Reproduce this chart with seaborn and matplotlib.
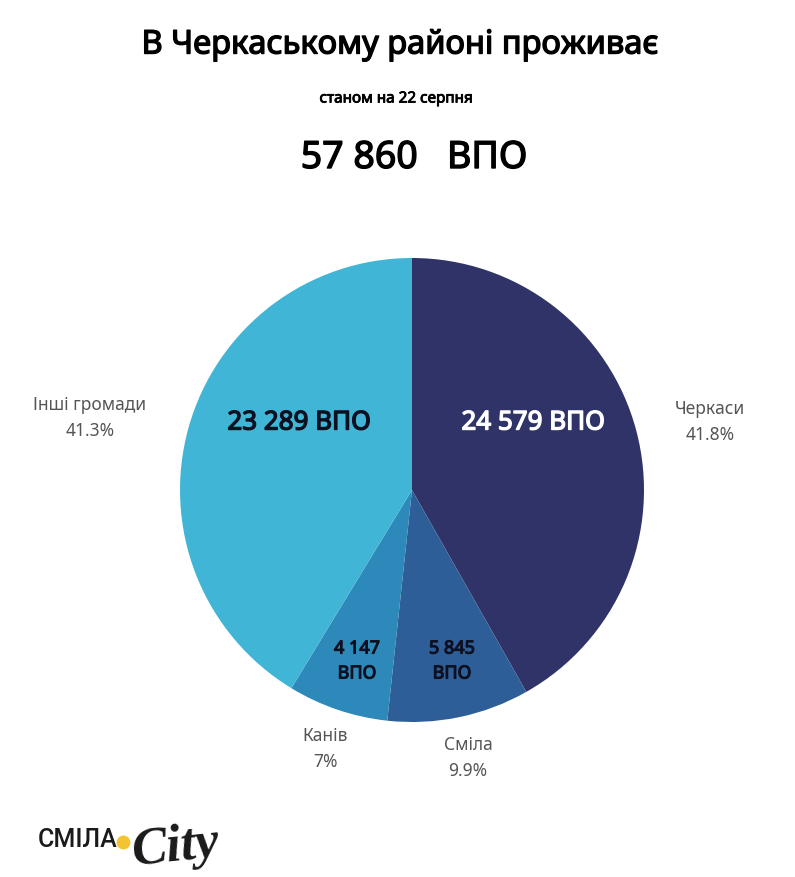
import matplotlib
matplotlib.use("Agg")
import matplotlib.pyplot as plt
import matplotlib.patheffects as pe
from matplotlib.lines import Line2D
import seaborn as sns

names = ["Черкаси", "Сміла", "Канів", "Інші громади"]
counts = ["24 579 ВПО", "5 845\nВПО", "4 147\nВПО", "23 289 ВПО"]
shares = [41.8, 9.9, 7, 41.3]
colors = ["#2F3368", "#2E5E97", "#2D89BA", "#40B5D6"]

sns.set_theme(style="white")
plt.rcParams["font.family"] = ["Noto Sans", "DejaVu Sans"]

W, H = 795, 877
fig = plt.figure(figsize=(W / 100, H / 100), dpi=100, facecolor="white")
# axes square around the pie: centre (412, 490), radius 232
ax = fig.add_axes([(412 - 232) / W, 1 - (490 + 232) / H, 464 / W, 464 / H])
ax.pie(shares, colors=colors, startangle=90, counterclock=False, radius=1,
       wedgeprops={"linewidth": 0})
ax.set_xlim(-1, 1)
ax.set_ylim(-1, 1)


def px(x, y, s, **kw):
    return fig.text(x / W, 1 - y / H, s, ha="center", va="center", **kw)


def heavy(x, y, s, color, width=1.0, **kw):
    # Noto Sans only comes in one weight here, thicken it with a stroke
    t = px(x, y, s, color=color, **kw)
    t.set_path_effects([pe.withStroke(linewidth=width, foreground=color)])


heavy(400, 45, "В Черкаському районі проживає", "black", fontsize=23.5)
heavy(396, 99, "станом на 22 серпня", "black", width=0.6, fontsize=11)
heavy(414, 158, "57 860   ВПО", "black", fontsize=27)

dark = "#0D1020"
heavy(533, 423, counts[0], "white", fontsize=18.7)
heavy(452, 661, counts[1], dark, width=0.8, fontsize=13, linespacing=1.5)
heavy(357, 661, counts[2], dark, width=0.8, fontsize=13, linespacing=1.5)
heavy(299, 423, counts[3], dark, fontsize=18.7)

outer = [(710, 422), (468, 758), (325, 749), (90, 418)]
for (x, y), n, s in zip(outer, names, shares):
    px(x, y, f"{n}\n{s:g}%", fontsize=12.5, color="#555555", linespacing=1.6)

# logo
fig.text(38 / W, 1 - 840 / H, "СМІЛА", ha="left", va="center", fontsize=18,
         color="#1a1a1a", family=["Roboto", "DejaVu Sans"], fontweight="medium")
fig.add_artist(Line2D([123 / W], [1 - 842 / H], marker="o", markersize=10, color="#F4C430",
                      markeredgewidth=0, transform=fig.transFigure))
fig.text(129 / W, 1 - 848 / H, "City", ha="left", va="center", fontsize=38, rotation=6,
         fontweight="bold", style="italic", color="#1a1a1a", family=["Liberation Serif"])

fig.savefig("out.png", dpi=100, facecolor="white")
